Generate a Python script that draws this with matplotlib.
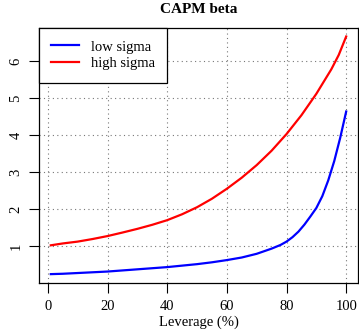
import matplotlib.pyplot as plt

# leverage (%) and CAPM beta
lev_low = [1, 5, 10, 15, 20, 25, 30, 35, 40, 45, 50, 55, 60, 65, 70, 75, 78,
           80, 82, 84, 86, 88, 90, 92, 94, 96, 98, 100]
beta_low = [0.24, 0.25, 0.27, 0.29, 0.31, 0.34, 0.37, 0.40, 0.43, 0.47, 0.51,
            0.56, 0.62, 0.69, 0.79, 0.93, 1.03, 1.12, 1.24, 1.39, 1.58, 1.80,
            2.03, 2.35, 2.78, 3.30, 3.93, 4.64]

lev_high = [1, 5, 10, 15, 20, 25, 30, 35, 40, 45, 50, 55, 60, 65, 70, 75, 80,
            85, 90, 95, 97.5, 100]
beta_high = [1.02, 1.07, 1.12, 1.19, 1.27, 1.365, 1.465, 1.575, 1.70, 1.86,
             2.05, 2.28, 2.55, 2.85, 3.19, 3.58, 4.03, 4.54, 5.12, 5.78, 6.17,
             6.67]

xticks = [0, 20, 40, 60, 80, 100]
yticks = [1, 2, 3, 4, 5, 6]

plt.rcParams['font.family'] = ['Liberation Serif', 'DejaVu Serif']

fig = plt.figure(figsize=(3.59, 3.34), dpi=100)
ax = fig.add_axes([39/359, 51/334, 319/359, 255/334])

ax.plot(lev_low, beta_low, color='blue', lw=1.6, label='low sigma')
ax.plot(lev_high, beta_high, color='red', lw=1.6, label='high sigma')

ax.set_xlim(-2.96, 103.96)
ax.set_ylim(0.0, 6.9)
ax.set_xticks(xticks)
ax.set_yticks(yticks)
ax.set_yticklabels([str(t) for t in yticks], rotation=90, va='center')
ax.tick_params(direction='out', length=7, width=0.8, labelsize=10.5, pad=5)
ax.grid(True, color='#777777', linestyle=(0, (1, 3)), linewidth=0.8)
ax.set_axisbelow(True)
for s in ax.spines.values():
    s.set_linewidth(0.9)

ax.set_title('CAPM beta', fontsize=11, fontweight='bold', pad=11)
ax.set_xlabel('Leverage (%)', fontsize=10.5, labelpad=2)

leg = ax.legend(loc='upper left', fontsize=10.5, fancybox=False,
                framealpha=1, edgecolor='black', borderaxespad=0,
                handlelength=1.9, handletextpad=0.8, borderpad=0.85,
                labelspacing=0.25)
leg.get_frame().set_linewidth(0.9)

plt.savefig('out.png', dpi=100)
